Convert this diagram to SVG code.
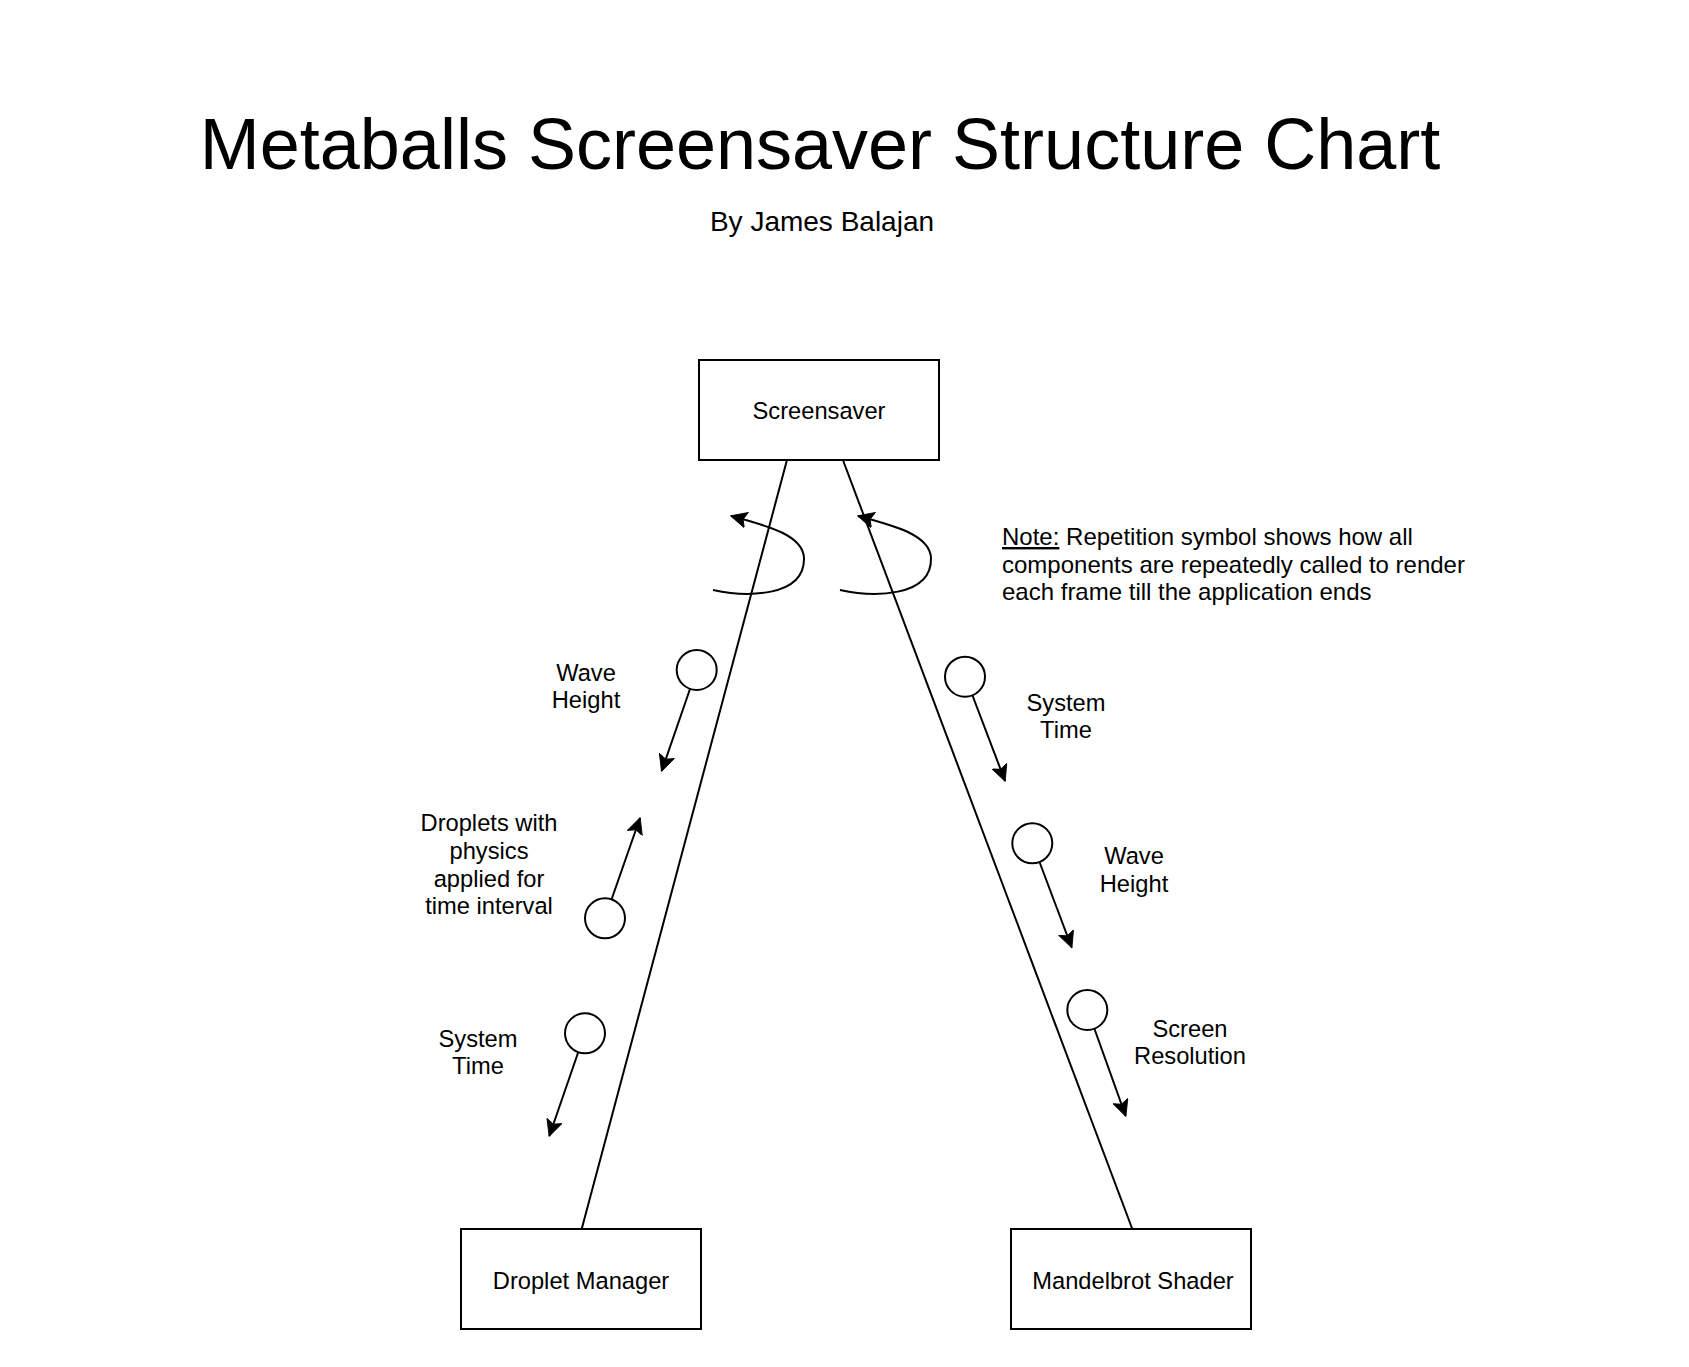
<svg xmlns="http://www.w3.org/2000/svg" width="1689" height="1367" viewBox="0 0 1689 1367">
<style>
text{font-family:"Liberation Sans",Arial,Helvetica,sans-serif;fill:#000}
.lbl{font-size:23.7px;text-anchor:middle}
.note{font-size:24px}
.box{fill:#fff;stroke:#000;stroke-width:2}
.ln{fill:none;stroke:#000;stroke-width:2}
.cir{fill:#fff;stroke:#000;stroke-width:2}
</style>
<defs>
<marker id="ah" markerUnits="userSpaceOnUse" markerWidth="17" markerHeight="17" viewBox="0 0 17 17" refX="16" refY="8.5" orient="auto">
<path d="M0,0.5 L16.5,8.5 L0,16.5 L3.5,8.5 z" fill="#000" stroke="#000" stroke-width="0.8" stroke-linejoin="miter"/>
</marker>
</defs>
<rect width="1689" height="1367" fill="#fff"/>
<text x="820" y="169" style="font-size:72px;text-anchor:middle">Metaballs Screensaver Structure Chart</text>
<text x="822" y="231" style="font-size:28px;text-anchor:middle">By James Balajan</text>

<g id="connectors">
<line class="ln" x1="786.7" y1="461" x2="581.7" y2="1229"/>
<line class="ln" x1="843.3" y1="461" x2="1132.3" y2="1229"/>
<path class="ln" d="M713,590 C745,597 805,598 804,558 C803,535 768,526 731,516" marker-end="url(#ah)"/>
<path class="ln" d="M840,590 C872,597 932,598 931,558 C930,535 895,526 858,516" marker-end="url(#ah)"/>
<line class="ln" x1="690" y1="689" x2="661.7" y2="771" marker-end="url(#ah)"/>
<line class="ln" x1="611.7" y1="899" x2="640" y2="818" marker-end="url(#ah)"/>
<line class="ln" x1="578.3" y1="1052" x2="549.3" y2="1136" marker-end="url(#ah)"/>
<line class="ln" x1="972.5" y1="695.5" x2="1005" y2="781" marker-end="url(#ah)"/>
<line class="ln" x1="1039.5" y1="862" x2="1071.7" y2="947.5" marker-end="url(#ah)"/>
<line class="ln" x1="1094.5" y1="1029" x2="1125.7" y2="1116" marker-end="url(#ah)"/>
</g>

<g id="screensaver">
<rect class="box" x="699" y="360" width="240" height="100"/>
<text class="lbl" x="819" y="419">Screensaver</text>
</g>
<g id="droplet-manager">
<rect class="box" x="461" y="1229" width="240" height="100"/>
<text class="lbl" x="581" y="1289">Droplet Manager</text>
</g>
<g id="mandelbrot-shader">
<rect class="box" x="1011" y="1229" width="240" height="100"/>
<text class="lbl" x="1133" y="1289">Mandelbrot Shader</text>
</g>

<g id="flow-wave-height-left">
<circle class="cir" cx="696.7" cy="670" r="20"/>
<text class="lbl" x="586" y="681">Wave</text>
<text class="lbl" x="586" y="708">Height</text>
</g>
<g id="flow-droplets">
<circle class="cir" cx="605" cy="918.3" r="20"/>
<text class="lbl" x="489" y="831">Droplets with</text>
<text class="lbl" x="489" y="859">physics</text>
<text class="lbl" x="489" y="887">applied for</text>
<text class="lbl" x="489" y="914">time interval</text>
</g>
<g id="flow-system-time-left">
<circle class="cir" cx="585" cy="1033.3" r="20"/>
<text class="lbl" x="478" y="1047">System</text>
<text class="lbl" x="478" y="1074">Time</text>
</g>
<g id="flow-system-time-right">
<circle class="cir" cx="965" cy="676.7" r="20"/>
<text class="lbl" x="1066" y="711">System</text>
<text class="lbl" x="1066" y="738">Time</text>
</g>
<g id="flow-wave-height-right">
<circle class="cir" cx="1032.3" cy="843.3" r="20"/>
<text class="lbl" x="1134" y="864">Wave</text>
<text class="lbl" x="1134" y="892">Height</text>
</g>
<g id="flow-screen-resolution">
<circle class="cir" cx="1087.3" cy="1010" r="20"/>
<text class="lbl" x="1190" y="1037">Screen</text>
<text class="lbl" x="1190" y="1064">Resolution</text>
</g>

<g id="note">
<text class="note" x="1002" y="545"><tspan text-decoration="underline">Note:</tspan> Repetition symbol shows how all</text>
<text class="note" x="1002" y="573">components are repeatedly called to render</text>
<text class="note" x="1002" y="600">each frame till the application ends</text>
</g>
</svg>
